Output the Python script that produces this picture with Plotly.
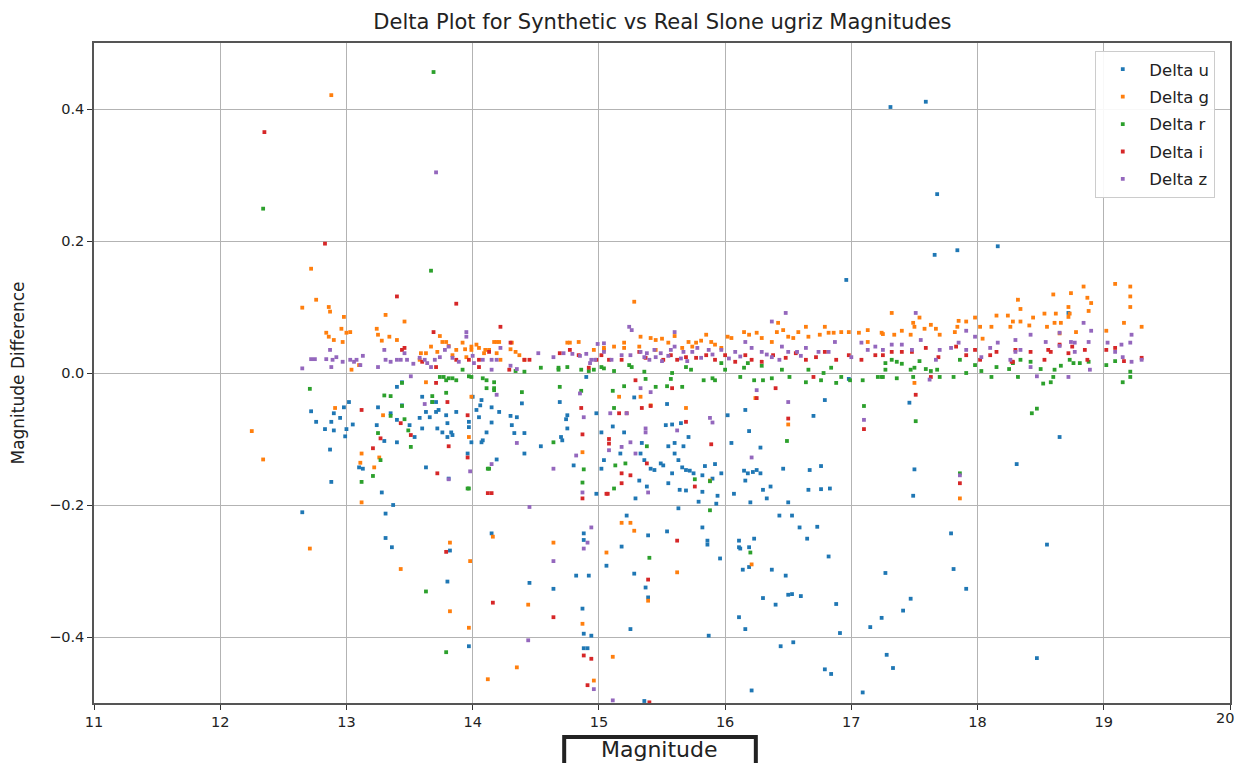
import plotly.graph_objects as go

# (magnitude, delta) pairs
u_points = [
    (12.65,-0.211),(12.72,-0.058),(12.76,-0.074),(12.83,-0.085),(12.88,-0.074),(12.90,-0.061),(12.90,-0.087),
    (12.95,-0.068),(12.98,-0.052),(13.00,-0.085),(12.99,-0.096),(13.02,-0.044),(13.05,-0.078),(12.87,-0.116),
    (12.88,-0.165),(13.24,-0.079),(13.25,-0.052),(13.31,-0.213),(13.31,-0.250),(13.36,-0.264),(13.28,-0.181),
    (13.37,-0.200),(13.10,-0.143),(13.13,-0.145),(13.35,-0.061),(13.40,-0.071),(13.44,-0.049),(13.50,-0.079),
    (13.60,-0.084),(13.58,-0.068),(13.63,-0.059),(13.60,-0.036),(13.68,-0.044),(13.71,-0.059),(13.73,-0.056),
    (13.72,-0.084),(13.76,-0.090),(13.79,-0.064),(13.80,-0.076),(13.83,-0.090),(13.84,-0.094),(13.80,-0.097),
    (13.87,-0.059),(13.63,-0.143),(13.81,-0.160),(13.80,-0.316),(13.82,-0.269),(13.97,-0.414),(13.97,-0.074),
    (14.00,-0.036),(14.03,-0.056),(13.97,-0.082),(13.99,-0.105),(13.96,-0.122),(14.08,-0.102),(14.11,-0.090),
    (13.30,-0.103),(13.40,-0.021),(13.44,-0.014),(13.40,-0.105),(13.54,-0.097),(13.66,-0.067),(13.71,-0.044),
    (14.06,-0.049),(14.05,-0.067),(14.07,-0.041),(14.07,-0.105),(14.15,-0.052),(14.15,-0.075),(14.21,-0.059),
    (14.30,-0.065),(14.35,-0.067),(14.31,-0.079),(14.33,-0.091),(14.41,-0.091),(14.39,-0.046),(14.41,-0.122),
    (14.15,-0.243),(14.19,-0.131),(14.69,-0.044),(14.75,-0.064),(14.74,-0.070),(14.75,-0.084),(14.70,-0.097),
    (14.71,-0.102),(14.54,-0.111),(14.80,-0.140),(14.88,-0.243),(14.88,-0.253),(14.90,-0.006),(14.98,-0.061),
    (15.02,-0.090),(15.02,-0.145),(14.98,-0.183),(15.04,-0.132),(14.45,-0.318),(14.64,-0.327),(14.82,-0.307),
    (14.92,-0.307),(14.87,-0.357),(14.88,-0.395),(14.94,-0.398),(14.88,-0.417),(14.91,-0.417),(15.06,-0.292),
    (15.36,-0.497),(16.21,-0.481),(17.09,-0.484),(16.79,-0.449),(16.84,-0.456),(16.44,-0.414),(16.54,-0.408),
    (16.91,-0.394),(17.15,-0.385),(15.87,-0.398),(15.25,-0.388),(16.11,-0.370),(16.16,-0.388),(16.30,-0.341),
    (16.40,-0.351),(16.50,-0.336),(16.53,-0.335),(16.60,-0.338),(16.88,-0.350),(16.82,-0.278),(16.48,-0.307),
    (16.37,-0.298),(16.14,-0.298),(16.11,-0.264),(16.19,-0.264),(16.23,-0.251),(16.11,-0.254),(15.96,-0.281),
    (15.86,-0.254),(15.86,-0.260),(15.82,-0.234),(15.54,-0.240),(15.39,-0.246),(15.18,-0.263),(15.28,-0.304),
    (15.37,-0.325),(15.39,-0.340),(16.43,-0.216),(16.53,-0.216),(16.59,-0.234),(16.73,-0.233),(16.65,-0.251),
    (15.22,-0.216),(16.12,-0.266),(16.19,-0.294),
    (15.11,-0.081),(15.17,-0.122),(15.20,-0.090),(15.28,-0.037),(15.33,-0.122),(15.36,-0.132),(15.34,-0.106),
    (15.41,-0.145),(15.44,-0.147),(15.32,-0.163),(15.38,-0.172),(15.29,-0.190),(15.54,-0.047),(15.53,-0.079),
    (15.58,-0.078),(15.55,-0.111),(15.60,-0.106),(15.60,-0.122),(15.65,-0.076),(15.63,-0.132),(15.67,-0.111),
    (15.71,-0.097),(15.49,-0.137),(15.51,-0.140),(15.58,-0.152),(15.66,-0.143),(15.69,-0.147),(15.72,-0.148),
    (15.75,-0.152),(15.55,-0.167),(15.64,-0.177),(15.69,-0.178),(15.82,-0.180),(15.79,-0.195),(15.84,-0.141),
    (15.82,-0.155),(15.92,-0.138),(15.90,-0.160),(15.97,-0.152),(15.94,-0.186),(15.93,-0.198),(15.63,-0.205),
    (16.02,-0.064),(16.05,-0.106),(16.16,-0.056),(16.19,-0.088),(16.28,-0.113),(16.15,-0.148),(16.18,-0.152),
    (16.22,-0.150),(16.25,-0.147),(16.28,-0.152),(16.16,-0.163),(16.30,-0.177),(16.36,-0.172),(16.07,-0.183),
    (16.20,-0.196),(16.33,-0.190),(16.50,-0.196),(16.46,-0.145),(16.67,-0.147),(16.76,-0.141),(16.66,-0.177),
    (16.76,-0.176),(16.83,-0.175),(16.70,-0.065),(16.79,-0.041),(16.98,-0.009),(17.46,-0.045),(17.50,-0.146),
    (17.49,-0.186),(17.79,-0.243),(17.81,-0.297),(17.91,-0.327),(17.47,-0.342),(17.41,-0.360),(17.24,-0.371),
    (17.27,-0.303),(17.28,-0.427),(17.33,-0.447),(18.55,-0.260),(18.31,-0.138),(18.65,-0.097),(18.47,-0.432),
    (17.31,0.403),(17.59,0.411),(17.68,0.271),(17.66,0.179),(17.84,0.186),(18.16,0.192),(18.72,0.091),(16.96,0.141),
]

g_points = [
    (12.25,-0.088),(12.34,-0.131),(12.71,-0.266),(12.88,0.421),(12.72,0.158),(12.76,0.111),(12.65,0.099),
    (12.86,0.100),(12.87,0.093),(12.98,0.085),(12.84,0.061),(12.86,0.055),(12.90,0.050),(12.97,0.047),
    (13.00,0.061),(13.03,0.062),(12.96,0.067),(13.04,0.005),(13.10,0.012),(13.12,-0.122),(13.11,-0.136),
    (13.12,-0.196),(12.91,-0.053),(13.31,0.088),(13.46,0.078),(13.24,0.067),(13.25,0.058),(13.34,0.055),
    (13.40,0.050),(13.28,0.049),(13.22,-0.143),(13.26,-0.128),(13.29,-0.064),
    (13.59,0.030),(13.58,0.020),(13.63,0.030),(13.67,0.040),(13.74,0.056),(13.76,0.047),(13.79,0.047),
    (13.81,0.041),(13.72,0.032),(13.84,0.027),(13.87,0.035),(13.92,0.046),(13.94,0.036),(13.95,0.024),
    (13.99,0.040),(13.99,0.035),(14.03,0.043),(14.05,0.038),(14.09,0.030),(14.13,0.035),(14.17,0.047),
    (14.21,0.047),(14.19,0.030),(14.22,0.020),(14.30,0.036),(14.34,0.032),(14.37,0.027),(14.41,0.020),
    (13.63,-0.014),(13.99,-0.036),(13.97,-0.097),(13.82,-0.257),(14.64,-0.257),(14.77,0.046),(14.84,0.047),
    (14.87,-0.120),(14.16,-0.248),(13.43,-0.297),(13.98,-0.285),(13.82,-0.361),(13.97,-0.386),(14.35,-0.446),
    (14.12,-0.464),(14.44,-0.351),(14.87,-0.380),(14.96,-0.466),(15.06,-0.272),(15.62,-0.302),(15.18,-0.227),
    (15.25,-0.227),(15.28,-0.239),(15.11,-0.430),(16.21,-0.290),(15.88,-0.163),(15.69,-0.053),(15.33,-0.036),
    (15.41,-0.049),(15.16,-0.036),(16.50,-0.078),(16.24,-0.038),(15.28,0.108),(15.39,-0.345),
    (14.19,0.047),(14.31,0.046),(14.75,0.046),(14.10,0.035),(15.04,0.035),
    (15.33,0.055),(15.41,0.053),(15.45,0.050),(15.50,0.052),(15.55,0.046),(15.60,0.056),(15.71,0.047),
    (15.77,0.046),(15.81,0.049),(15.85,0.058),(15.89,0.047),(15.92,0.043),(15.97,0.038),(16.02,0.055),
    (16.05,0.053),(16.15,0.062),(16.19,0.058),(16.25,0.061),(16.29,0.053),(16.37,0.047),(16.42,0.076),
    (16.41,0.062),(16.46,0.065),(16.50,0.055),(16.54,0.053),(16.58,0.062),(16.64,0.070),(16.66,0.055),
    (16.75,0.058),(16.79,0.070),(16.82,0.061),(16.86,0.061),(16.92,0.062),(16.98,0.062),(17.06,0.061),
    (17.13,0.065),(17.24,0.061),(17.13,0.047),(15.04,0.038),(15.12,0.040),(15.20,0.038),(15.32,0.040),
    (15.45,0.035),(15.66,0.038),(15.74,0.040),(14.96,0.035),(15.20,0.046),
    (17.32,0.091),(17.49,0.076),(17.54,0.084),(17.50,0.070),(17.63,0.073),(17.67,0.067),(17.70,0.058),
    (17.58,0.067),(17.47,0.058),(17.40,0.064),(17.34,0.058),(17.25,0.059),(17.85,0.079),(17.84,0.070),
    (17.91,0.078),(17.82,0.062),(17.98,0.084),(18.02,0.070),(18.04,0.052),(18.11,0.070),(18.15,0.087),
    (18.24,0.087),(18.28,0.078),(18.26,0.070),(18.34,0.078),(18.32,0.111),(18.34,0.097),(18.41,0.072),
    (18.44,0.084),(18.53,0.090),(18.62,0.090),(18.55,0.070),(18.60,0.119),(18.61,0.076),(18.66,0.076),
    (18.65,0.060),(18.73,0.090),(18.72,0.085),(18.72,0.100),(18.74,0.121),(18.78,0.062),(18.84,0.131),
    (18.87,0.114),(18.90,0.106),(18.88,0.094),(19.02,0.064),(19.09,0.135),(19.16,0.076),(19.21,0.131),
    (19.21,0.116),(19.21,0.100),(19.30,0.070),(17.50,-0.015),(17.86,-0.190),
]

r_points = [
    (12.34,0.249),(13.69,0.456),(13.67,0.155),(12.71,-0.024),(13.12,-0.165),(13.21,-0.156),(13.27,-0.132),
    (13.25,-0.091),(13.30,-0.034),(13.35,-0.035),(13.44,-0.015),(13.44,-0.050),(13.46,-0.070),(13.49,-0.087),
    (13.51,-0.112),(13.35,-0.065),(13.63,-0.331),(13.79,-0.423),(13.68,-0.044),(13.68,-0.035),(13.77,-0.006),
    (13.79,-0.030),(13.96,-0.175),(14.12,-0.145),(13.74,-0.006),(13.81,-0.008),(13.84,-0.008),(13.79,-0.011),
    (13.87,-0.011),(13.92,0.005),(13.97,-0.005),(13.99,-0.006),(14.08,-0.008),(14.11,-0.023),(14.17,-0.014),
    (14.17,-0.023),(14.13,-0.145),(13.97,-0.175),(14.39,-0.029),(14.54,0.008),(14.69,-0.021),(14.68,0.008),
    (14.75,0.009),(14.86,-0.027),(14.88,-0.146),(14.87,-0.166),(14.96,0.005),(15.02,0.009),(14.11,-0.011),
    (14.17,-0.026),(14.34,0.003),(14.41,0.002),(14.68,0.005),(14.86,0.005),(14.64,-0.105),(14.92,0.003),
    (15.04,0.007),(15.12,0.003),(15.11,-0.027),(15.20,-0.020),(15.12,-0.053),(15.24,0.012),(15.26,0.009),
    (15.36,0.002),(15.37,-0.009),(15.45,-0.021),(15.54,-0.020),(15.57,-0.009),(15.58,0.000),(15.66,-0.021),
    (15.69,0.009),(15.73,0.005),(15.83,-0.011),(15.90,-0.008),(15.92,-0.011),(15.97,0.015),(16.00,0.005),
    (16.12,-0.006),(16.15,0.008),(16.18,0.015),(16.23,-0.011),(16.29,0.011),(16.30,-0.011),(16.37,-0.008),
    (16.45,0.005),(16.51,-0.006),(16.64,-0.014),(16.66,0.005),(16.76,-0.011),(16.78,0.000),(16.84,0.008),
    (16.88,-0.015),(16.92,-0.006),(16.99,-0.011),(17.09,-0.011),(17.10,-0.050),(17.24,-0.006),(15.38,-0.111),
    (15.21,-0.137),(15.13,-0.140),(15.12,-0.175),(15.40,-0.280),(15.76,-0.161),(15.88,-0.164),(15.88,-0.208),
    (16.49,-0.103),(16.20,-0.272),(17.27,0.005),(17.25,-0.006),(17.21,-0.006),(17.36,-0.008),(17.32,0.020),
    (17.36,0.017),(17.27,0.015),(17.40,0.014),(17.47,0.005),(17.50,0.008),(17.49,-0.006),(17.54,0.018),
    (17.59,0.006),(17.63,0.003),(17.68,0.005),(17.70,-0.006),(17.81,-0.006),(17.86,0.020),(17.91,0.000),
    (17.98,0.012),(18.03,0.003),(18.11,-0.006),(18.15,0.009),(18.25,0.006),(18.28,0.015),(18.32,-0.006),
    (18.34,0.020),(18.42,0.017),(18.50,0.006),(18.58,-0.014),(18.52,-0.016),(18.60,-0.006),(18.61,0.005),
    (18.66,0.011),(18.73,0.020),(18.76,0.015),(18.81,0.015),(18.88,0.017),(19.02,0.012),(19.09,0.018),
    (19.15,-0.014),(19.21,0.002),(19.21,-0.006),(18.47,-0.054),(18.43,-0.061),(17.51,-0.073),(17.86,-0.152),
]

i_points = [
    (12.35,0.365),(12.83,0.196),(13.40,0.116),(13.87,0.105),(13.69,0.062),(14.22,0.070),(13.71,-0.015),
    (13.12,-0.056),(13.43,-0.076),(13.51,-0.094),(13.27,-0.099),(13.21,-0.114),(13.81,-0.111),(13.72,-0.152),
    (13.96,-0.128),(14.12,-0.182),(14.15,-0.182),(13.96,-0.064),(13.80,-0.044),(13.79,-0.271),(14.16,-0.348),
    (14.64,-0.370),(14.88,-0.428),(14.94,-0.433),(14.91,-0.473),(14.87,-0.190),(15.06,-0.183),(14.87,-0.093),
    (14.86,-0.053),(13.46,0.038),(14.05,0.009),(14.29,0.005),(14.41,0.020),(14.30,0.046),(14.77,0.035),
    (14.84,0.027),(14.92,0.008),(14.13,0.032),(14.45,0.020),(14.69,0.030),(13.97,0.020),(13.87,0.020),
    (13.60,0.017),(13.71,0.009),(14.98,0.020),(15.02,0.027),(13.44,0.035),(14.05,0.020),
    (15.08,-0.107),(15.08,-0.100),(15.18,-0.152),(15.18,-0.167),(15.07,-0.183),(15.22,-0.061),(15.16,-0.061),
    (15.25,-0.155),(15.38,-0.137),(15.34,-0.053),(15.41,-0.050),(15.29,-0.011),(15.69,-0.074),(15.76,-0.172),
    (15.89,-0.108),(15.58,-0.023),(16.25,-0.038),(16.50,-0.069),(17.10,-0.085),(16.70,-0.006),(15.62,-0.254),
    (15.39,-0.313),(15.40,-0.499),(17.51,-0.033),(17.86,-0.167),(16.40,-0.023),
    (15.08,0.020),(15.18,0.020),(15.32,0.032),(15.37,0.023),(15.51,0.020),(15.57,0.027),(15.62,0.020),
    (15.69,0.024),(15.77,0.023),(15.85,0.027),(15.92,0.020),(16.00,0.027),(16.08,0.017),(16.16,0.027),
    (16.21,0.020),(16.29,0.017),(16.38,0.027),(16.48,0.023),(16.56,0.030),(16.64,0.020),(16.72,0.024),
    (16.79,0.032),(16.88,0.020),(16.98,0.027),(17.08,0.020),(17.19,0.027),
    (17.32,0.032),(17.25,0.027),(17.40,0.032),(17.48,0.032),(17.59,0.038),(17.69,0.024),(17.83,0.040),
    (17.91,0.027),(17.98,0.035),(18.02,0.020),(18.10,0.027),(18.15,0.032),(18.28,0.017),(18.30,0.035),
    (18.42,0.032),(18.56,0.035),(18.58,0.032),(18.65,0.043),(18.72,0.030),(18.75,0.040),(18.85,0.035),
    (18.87,0.020),(19.02,0.035),(19.09,0.038),(19.16,0.018),(19.30,0.023),(18.53,0.020),(18.27,0.017),
    (17.63,-0.006),
]

z_points = [
    (13.71,0.304),(12.65,0.007),(12.72,0.021),(12.75,0.021),(12.84,0.021),(12.87,0.035),(12.88,0.009),
    (12.89,0.020),(12.92,0.024),(12.97,0.017),(13.03,0.020),(13.06,0.017),(13.08,0.020),(13.13,0.026),
    (13.11,0.012),(13.25,0.009),(13.30,0.035),(13.31,0.020),(13.35,0.017),(13.40,0.020),(13.43,0.020),
    (13.46,0.030),(13.48,0.020),(13.51,-0.005),(13.53,0.014),(13.58,0.023),(13.62,0.020),(13.64,0.015),
    (13.67,0.009),(13.70,0.020),(13.74,0.024),(13.78,0.035),(13.81,0.040),(13.84,0.023),(13.89,0.017),
    (13.95,0.062),(13.95,0.055),(14.00,0.026),(14.01,0.015),(14.08,0.020),(14.15,0.020),(14.15,0.005),
    (14.19,0.020),(14.22,0.038),(14.30,0.011),(14.35,0.006),(14.52,0.030),(14.64,0.024),(14.72,0.030),
    (14.79,0.029),(14.85,0.026),(14.90,0.029),(14.93,0.015),(14.99,0.044),(15.04,0.045),
    (13.62,-0.047),(13.81,-0.161),(13.98,-0.149),(14.35,-0.106),(14.15,-0.138),(14.19,-0.033),(14.64,-0.145),
    (14.45,-0.203),(14.82,-0.125),(14.88,-0.067),(14.85,-0.031),(14.87,-0.181),(14.94,-0.234),(14.91,-0.257),
    (14.88,-0.266),(14.64,-0.285),(14.44,-0.405),(14.96,-0.479),(15.11,-0.496),
    (15.24,0.070),(15.26,0.065),(15.60,0.062),(16.48,0.091),(16.37,0.078),(16.25,-0.026),(16.50,-0.044),
    (15.88,-0.068),(15.90,-0.075),(15.33,-0.023),(15.41,-0.029),(15.09,-0.061),(15.22,-0.061),(15.37,-0.084),
    (15.37,-0.090),(15.18,-0.112),(15.25,-0.105),(15.29,-0.122),(15.62,-0.087),(16.21,-0.128),(15.39,-0.181),
    (15.08,-0.117),(17.10,-0.071),
    (14.94,0.020),(14.97,0.020),(15.04,0.032),(15.10,0.020),(15.18,0.027),(15.25,0.027),(15.33,0.032),
    (15.36,0.024),(15.38,0.030),(15.45,0.024),(15.49,0.030),(15.60,0.040),(15.67,0.032),(15.74,0.032),
    (15.81,0.023),(15.87,0.035),(15.97,0.035),(16.08,0.032),(16.16,0.047),(16.21,0.038),(16.29,0.032),
    (16.37,0.024),(16.45,0.040),(16.50,0.032),(16.57,0.032),(16.64,0.038),(16.74,0.032),(16.82,0.032),
    (16.87,0.047),(17.00,0.024),(17.08,0.046),(17.13,0.035),(17.19,0.040),(17.25,0.035),
    (15.40,0.020),(15.44,0.035),(15.50,0.018),(15.55,0.026),(15.57,0.035),(15.65,0.022),(15.70,0.018),
    (15.78,0.038),(15.90,0.028),(16.03,0.022),(16.12,0.025),(16.33,0.028),(16.43,0.020),(16.60,0.026),
    (17.51,0.091),(17.91,0.064),(17.98,0.055),(18.42,0.058),(18.65,0.061),(18.84,0.076),(18.90,0.064),
    (18.74,0.047),(18.77,0.046),(18.30,0.050),(19.14,0.043),(19.22,0.058),(19.22,0.017),(19.30,0.020),
    (18.47,-0.005),(18.72,-0.006),(18.89,0.005),(17.62,-0.010),(17.86,-0.155),
    (17.40,0.043),(17.32,0.043),(17.55,0.050),(17.48,0.035),(17.67,0.020),(17.70,0.035),(17.79,0.038),
    (17.85,0.046),(17.91,0.035),(18.03,0.024),(18.10,0.038),(18.16,0.046),(18.26,0.020),(18.30,0.032),
    (18.34,0.035),(18.42,0.009),(18.54,0.047),(18.65,0.041),(18.77,0.032),(18.88,0.047),(19.03,0.046),
    (19.09,0.032),(19.15,0.024),(19.21,0.046),
]

series_names = ["Delta u", "Delta g", "Delta r", "Delta i", "Delta z"]
series_points = [u_points, g_points, r_points, i_points, z_points]
series_colors = ["#1f77b4", "#ff7f0e", "#2ca02c", "#d62728", "#9467bd"]

x_ticks = [11, 12, 13, 14, 15, 16, 17, 18, 19, 20]
y_ticks = [-0.4, -0.2, 0.0, 0.2, 0.4]
y_tick_text = ["\u22120.4", "\u22120.2", "0.0", "0.2", "0.4"]

FONT = "DejaVu Sans"

fig = go.Figure()
for name, pts, col in zip(series_names, series_points, series_colors):
    fig.add_trace(go.Scatter(
        x=[p[0] for p in pts], y=[p[1] for p in pts],
        mode="markers", name=name, legendgroup=name,
        marker=dict(color=col, size=3.8, symbol="square", line=dict(width=0)),
    ))

axis_common = dict(
    showgrid=True, gridcolor="#b3b3b3", gridwidth=1,
    showline=True, linecolor="#555555", linewidth=1.5, mirror=True,
    ticks="outside", ticklen=5, tickcolor="#333333",
    tickfont=dict(family=FONT, size=14.5, color="#222222"),
    zeroline=False,
)

fig.update_xaxes(range=[11, 20], tickvals=x_ticks, **axis_common)
fig.update_yaxes(range=[-0.5, 0.5], tickvals=y_ticks, ticktext=y_tick_text,
                 title=dict(text="Magnitude Difference", font=dict(family=FONT, size=17, color="#222222"), standoff=21),
                 **axis_common)

fig.update_layout(
    width=1229, height=755,
    margin=dict(l=86, r=5, t=35, b=60),
    paper_bgcolor="white", plot_bgcolor="white",
    font=dict(family=FONT, color="#222222"),
    title=dict(text="Delta Plot for Synthetic vs Real Slone ugriz Magnitudes",
               x=0.5325, xanchor="center", y=0.9815, yanchor="middle",
               font=dict(family=FONT, size=21, color="#222222")),
    showlegend=True,
    legend=dict(x=0.8814, xanchor="left", y=0.988, yanchor="top",
                bgcolor="rgba(255,255,255,0.9)", bordercolor="#cccccc", borderwidth=1,
                font=dict(family=FONT, size=16.5, color="#222222"),
                tracegroupgap=3, itemsizing="trace", itemwidth=43),
)

# last tick label at the right edge (the axis itself hides it as it meets the border)
fig.add_annotation(text=str(x_ticks[-1]), xref="paper", yref="paper",
                   x=1.0044, y=-0.0227, xanchor="right", yanchor="middle", showarrow=False,
                   borderpad=0, font=dict(family=FONT, size=14.5, color="#222222"))

# boxed x-axis label
fig.add_shape(type="rect", xref="paper", yref="paper",
              x0=0.4139, x1=0.5826, y0=-0.13, y1=-0.0515,
              line=dict(color="#222222", width=4), fillcolor="white")
fig.add_annotation(text="Magnitude", xref="paper", yref="paper",
                   x=0.4982, y=-0.0697, xanchor="center", yanchor="middle", showarrow=False,
                   font=dict(family=FONT, size=22, color="#222222"))

fig.write_html("out.html")
